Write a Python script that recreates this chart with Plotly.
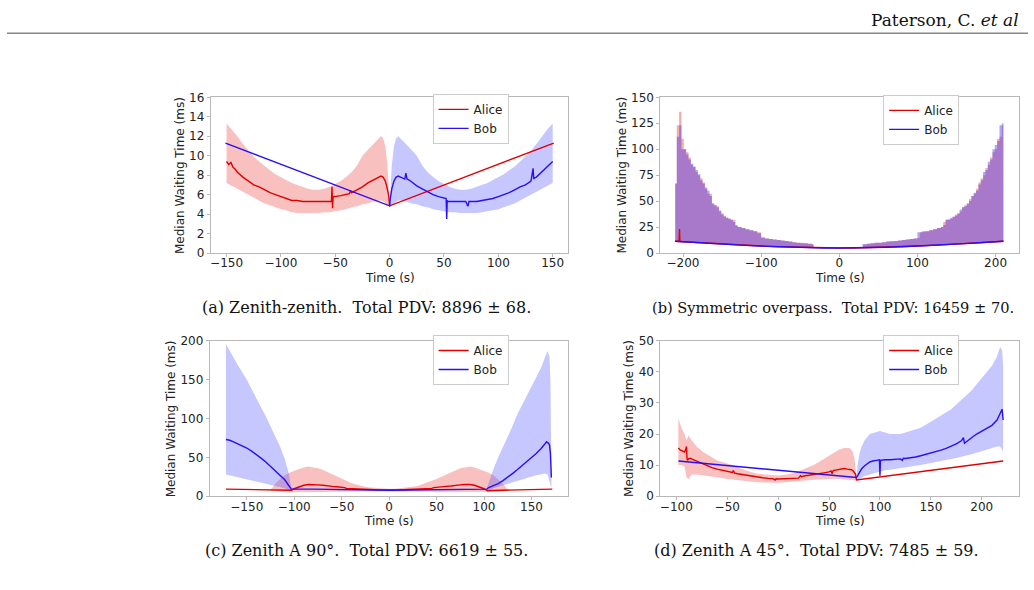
import plotly.graph_objects as go

W, H = 1034, 590
RED = "rgb(225,0,0)"
BLUE = "rgb(40,15,245)"

# ---------------- Panel (a): Zenith-zenith ----------------
a_alice_t = [-150,-148,-146,-144,-142,-140,-135,-130,-125,-120,-115,-110,-105,-100,-95,-90,-85,-80,-75,-70,
             -65,-60,-55,-53.5,-53,-52.5,-52,-50,-45,-40,-37,-36,-35,-30,-25,-20,-15,-10,-8,-6,
             -4,-3,-2,-1,-0.5,0,151]
a_alice_y = [9.4,9.1,9.3,8.8,8.6,8.3,7.8,7.4,7.0,6.8,6.5,6.2,6.0,5.8,5.6,5.4,5.4,5.3,5.3,5.3,
             5.25,5.3,5.3,5.3,6.8,4.6,5.8,5.8,5.9,6.0,6.1,6.4,6.2,6.5,6.8,7.2,7.5,7.8,7.9,7.8,
             7.4,7.0,6.6,6.0,5.5,4.85,11.3]
a_alice_bt = [-150,-145,-140,-135,-130,-125,-120,-115,-110,-105,-100,-95,-90,-85,-80,-75,-70,-65,-60,-55,
              -50,-45,-40,-35,-30,-25,-20,-15,-10,-8,-6,-4,-2,-1,0]
a_alice_hi = [13.3,12.7,12.0,11.2,10.5,9.9,9.4,8.9,8.5,8.1,7.8,7.5,7.2,7.0,6.8,6.6,6.5,6.5,6.6,6.8,
              7.1,7.4,7.8,8.3,9.0,10.0,10.6,11.2,11.8,12.0,11.8,11.0,9.0,7.0,5.0]
a_alice_lo = [7.2,6.9,6.6,6.3,6.0,5.7,5.4,5.1,4.9,4.7,4.5,4.4,4.2,4.1,4.1,4.1,4.1,4.1,4.2,4.2,
              4.3,4.4,4.5,4.7,4.8,5.0,5.1,5.3,5.4,5.4,5.3,5.1,4.9,4.8,4.8]
a_bob_t = [-151,0,0.5,1,2,3,4,6,8,10,12,14,15,16,18,20,25,30,35,40,
           45,50,52,52.5,53,53.5,55,60,65,70,72,73,74,75,80,85,90,95,100,105,
           110,115,120,125,130,132,132.5,133,135,140,145,148,150]
a_bob_y = [11.3,4.85,5.5,6.0,6.6,7.0,7.4,7.8,7.9,7.8,7.7,7.6,8.2,7.6,7.5,7.3,6.9,6.6,6.3,6.0,
           5.8,5.6,5.6,3.5,5.4,5.3,5.3,5.3,5.25,5.3,4.8,5.3,5.3,5.3,5.3,5.4,5.5,5.6,5.8,6.0,
           6.2,6.5,6.8,7.0,7.4,8.7,7.6,7.7,7.8,8.3,8.8,9.1,9.4]
a_bob_bt = [0,1,2,4,6,8,10,15,20,25,30,35,40,45,50,55,60,65,70,75,80,85,90,95,100,105,110,115,120,125,
            130,135,140,145,150]
a_bob_hi = [5.0,7.0,9.0,11.0,11.8,12.0,11.8,11.2,10.6,10.0,9.0,8.3,7.8,7.4,7.1,6.8,6.6,6.5,6.5,6.6,
            6.8,7.0,7.2,7.5,7.8,8.1,8.5,8.9,9.4,9.9,10.5,11.2,12.0,12.7,13.3]
a_bob_lo = [4.8,4.8,4.9,5.1,5.3,5.4,5.4,5.3,5.1,5.0,4.8,4.7,4.5,4.4,4.3,4.2,4.2,4.1,4.1,4.1,
            4.1,4.2,4.3,4.4,4.5,4.7,4.9,5.1,5.4,5.7,6.0,6.3,6.6,6.9,7.2]

# ---------------- Panel (b): Symmetric overpass ----------------
b_alice_t = [-210,-206,-205,-204.5,-204,-200,-180,-160,-140,-120,-100,-80,-60,-40,-20,
             0,20,40,60,80,100,120,140,160,180,200,210]
b_alice_y = [11.3,11.2,11.1,23,11.0,10.8,9.9,9.0,8.2,7.4,6.7,6.1,5.6,5.2,4.9,
             4.8,4.9,5.2,5.6,6.1,6.7,7.4,8.2,9.0,9.9,10.8,11.3]
b_bob_t = [-210,-200,-180,-160,-140,-120,-100,-80,-60,-40,-20,0,20,40,60,80,100,120,140,160,180,200,210]
b_bob_y = [11.3,10.8,9.9,9.0,8.2,7.4,6.7,6.1,5.6,5.2,4.9,4.8,4.9,5.2,5.6,6.1,6.7,7.4,8.2,9.0,9.9,10.8,11.3]
b_left_t = [-210,-208,-205,-202,-199,-196,-193,-190,-187,-184,-181,-178,-175,-172,-169,-166,-163,-160,-157,-154,
            -151,-148,-145,-142,-139,-136,-133,-130,-125,-120,-115,-110,-105,-100,-95,-90,-85,-80,-75,-70,
            -65,-60,-55,-50,-45,-40,-35,-33]
b_left_lo = [11.3,11.2,11.1,10.9,10.8,10.6,10.5,10.3,10.2,10.1,9.9,9.8,9.7,9.5,9.4,9.3,9.1,9.0,8.9,8.8,
             8.6,8.5,8.4,8.3,8.2,8.0,7.9,7.8,7.6,7.4,7.2,7.0,6.9,6.7,6.5,6.4,6.2,6.1,6.0,5.8,
             5.7,5.6,5.5,5.4,5.3,5.2,5.1,5.1]
b_alice_left_hi = [67,123,136,110,100,97,92,85,83,78,75,72,68,62,57,57,47,46,45,40,
                   38,36,34,33,32,32,26,25,24,23,22,21,20,15,14,13.5,13,12.5,12,11.5,
                   11,10.5,10,10,9.5,9,8.5,5]
b_bob_left_hi = [67,112,123,100,100,95,90,86,83,80,76,70,67,63,60,55,48,46,44,41,
                 37,35,34,33,32,30,27,25,24,23,22,21,19,15,14,13.5,13,12.5,12,11.5,
                 11,10.5,10,9.5,9.5,9,8.5,5]
b_right_t = [30,35,40,45,50,55,60,65,70,75,80,85,90,95,100,103,106,110,115,120,
             125,130,133,136,139,142,145,148,151,154,157,160,163,166,169,172,175,178,181,184,
             187,190,193,196,199,202,205,208,210]
b_right_lo = [5.0,5.1,5.2,5.3,5.4,5.5,5.6,5.7,5.8,6.0,6.1,6.2,6.4,6.5,6.7,6.8,6.9,7.0,7.2,7.4,
              7.6,7.8,7.9,8.0,8.2,8.3,8.4,8.5,8.6,8.8,8.9,9.0,9.1,9.3,9.4,9.5,9.7,9.8,9.9,10.1,
              10.2,10.3,10.5,10.6,10.8,10.9,11.1,11.2,11.3]
b_alice_right_hi = [8.5,9,9.5,10,10,10.5,11,11,11.5,12,12.5,13,13.5,14,14.5,20,20.5,21,22,23,
                    24,25,30,32,32.5,33,35,37,38,40,44,46,47,52,55,57,62,68,72,75,
                    82,85,92,97,100,110,112,123,135]
b_bob_right_hi = [8.5,9,9.5,10,10,10.5,11,11.5,11.5,12,12.5,13,13.5,14,20,20,21,21,22,23,
                  24,25,27,32,32,34,35,36,38,42,44,45,48,50,55,58,60,66,70,78,
                  80,88,90,100,104,108,123,125,145]

# ---------------- Panel (c): Zenith A 90 ----------------
c_alice_t = [-172,-150,-130,-110,-104,-103,-100,-95,-90,-85,-80,-75,-70,-65,-60,-55,-50,-47,-45,-40,
             -30,-20,-10,0,10,20,30,40,45,47,50,55,60,65,70,75,80,85,90,95,
             100,103,104,110,130,150,172]
c_alice_y = [9,8.5,8,7.3,7,7.5,9.5,12,14,15,15,14.5,14,13,12.5,12,11.5,11,10,9.5,
             9,8.5,8,7.8,8,8.5,9,9.5,10,11,11.5,12,12.5,13,14,14.5,15,15,14,12,
             9.5,7.5,7,7.3,8,8.5,9]
c_alice_bt = [-125,-120,-115,-110,-105,-100,-95,-90,-85,-80,-75,-70,-65,-60,-55,-50,-45,-40,-35,-30,
              -25,-20,-15,-10,-5,0,5,10,15,20,25,30,35,40,45,50,55,60,65,70,
              75,80,85,90,95,100,105,110,115,120,125]
c_alice_hi = [8,16,22,27,30,33,35,37,38,37,36,34,31,28,25,22,19,17,15,13,
              12,11,10.5,10,9.5,9.5,9.5,10,10.5,11,12,13,15,17,19,22,25,28,31,34,
              36,37,38,37,35,33,30,27,22,16,8]
c_alice_lo = [7,6,5.5,5,5,5,5,5,5,5,5,5,5,5,5,5,5.5,5.5,5.5,6,
              6,6,6,6,6,6,6,6,6,6,6,6,5.5,5.5,5.5,5,5,5,5,5,
              5,5,5,5,5,5,5,5,5.5,6,7]
c_bob_t = [-172,-168,-164,-160,-155,-150,-145,-140,-135,-130,-125,-120,-115,-110,-106,-104,-103,-80,-60,-40,
           -20,0,20,40,60,80,103,105,110,115,120,125,130,135,140,145,150,155,160,164,
           166,168,169,170,171]
c_bob_y = [73,72,70,68,65,62,58,54,49,44,38,33,27,21,14,10,9,9,8.5,8,
           7.8,7.5,7.8,8,8.5,9,9,11,13,16,20,24,29,34,39,44,49,55,61,67,
           70,68,66,55,24]
c_bob_left_t = [-172,-165,-160,-155,-150,-145,-140,-135,-130,-125,-120,-115,-110,-106,-103]
c_bob_left_hi = [196,180,170,160,150,138,127,115,103,90,77,64,48,30,10]
c_bob_left_lo = [28,26,25,23.5,22,20.5,19,17.5,16,14.5,13,11.5,10,8,6]
c_bob_right_t = [103,106,110,115,120,125,130,135,140,145,150,155,160,164,167,169,170,171]
c_bob_right_hi = [10,22,35,50,63,76,90,105,117,128,139,152,165,178,187,180,150,30]
c_bob_right_lo = [6,8,10,12,14,16,18,20,22,24,26,27,28,29,28,20,14,10]

# ---------------- Panel (d): Zenith A 45 ----------------
d_alice_t = [-98,-96,-94,-92,-91,-90,-89.5,-89,-88,-86,-84,-80,-75,-70,-65,-60,-55,-50,-45,-44,
             -43,-40,-35,-30,-25,-20,-15,-10,-5,-3,-2,0,5,10,15,20,22,23,25,30,
             35,40,45,50,52,53,54,55,60,63,65,68,70,72,74,75,76,77,221]
d_alice_y = [15.5,14.8,14.6,14.2,14.8,16,12,11.5,12,12.2,11.8,11.2,10.5,9.8,9.2,8.7,8.3,7.9,7.6,8.2,
             7.5,7.2,6.9,6.6,6.3,6.1,5.9,5.7,5.6,5.2,5.6,5.5,5.5,5.6,5.7,5.8,6.6,6.2,6.5,6.7,
             6.9,7.2,7.5,7.8,8.1,7.2,8.2,8.3,8.6,8.8,8.9,8.7,8.6,8.5,8.0,7.5,7.0,5.2,11.3]
d_alice_bt = [-98,-95,-92,-90,-88,-85,-80,-75,-70,-65,-60,-55,-50,-45,-40,-35,-30,-25,-20,-15,
              -10,-5,0,5,10,15,20,25,30,35,40,45,50,55,60,65,70,73,75,77]
d_alice_hi = [25,22,20,18,19.5,18,16,14.5,13.5,12.5,11.5,11,10.5,10,9.2,8.6,8,7.6,7.2,7,
              6.8,6.7,6.6,6.8,7,7.4,8,8.6,9.3,10,11,12,13,14,15,15.5,15.5,14.5,12,6]
d_alice_lo = [10,10,9.5,6,5.5,7,7,6.8,6.5,6.2,6,5.8,5.5,5.3,5.1,4.9,4.8,4.6,4.5,4.4,
              4.3,4.3,4.3,4.4,4.5,4.6,4.8,5,5.1,5.3,5.4,5.5,5.6,5.6,5.5,5.4,5.2,5.1,5,5]
d_bob_t = [-98,77,78,80,82,85,88,90,93,95,98,99.5,100,100.5,102,105,110,115,120,122,
           123,125,130,135,140,145,150,155,160,165,170,175,180,182,183,185,190,195,200,205,
           210,215,218,220,221]
d_bob_y = [11.3,6.0,6.5,7.8,8.8,9.8,10.6,11.0,11.3,11.5,11.6,11.7,6.6,11.5,11.6,11.7,11.7,11.8,12.0,11.5,
           12.2,12.1,12.3,12.6,13.0,13.4,13.8,14.2,14.8,15.4,16.0,16.8,17.8,18.8,17.0,17.6,18.8,20.0,21.0,21.8,
           22.8,24.5,26.5,28.0,24.5]
d_bob_bt = [77,78,80,82,85,90,95,100,105,110,115,120,125,130,135,140,145,150,155,160,
            165,170,175,180,185,190,195,200,205,210,215,218,220,221]
d_bob_hi = [6,10,14,16,18,20,20.5,21,20.5,20,20,20,20.5,21,21.5,22,23,24,25,26,
            27,28,29.5,31,32.5,34,36,38,40,42,45,48,47,42]
d_bob_lo = [5,5,5.5,6,6.5,7,7.5,8,8.3,8.5,8.8,9,9.2,9.5,9.8,10,10.3,10.6,11,11.3,
            11.6,12,12.3,12.7,13,13.5,14,14.5,15,15.5,16,16,15,14]

# tick values
a_xticks = [-150,-100,-50,0,50,100,150]; a_yticks = [0,2,4,6,8,10,12,14,16]
b_xticks = [-200,-100,0,100,200];        b_yticks = [0,25,50,75,100,125,150]
c_xticks = [-150,-100,-50,0,50,100,150]; c_yticks = [0,50,100,150,200]
d_xticks = [-100,-50,0,50,100,150,200];  d_yticks = [0,10,20,30,40,50]

captions = ["(a) Zenith-zenith.  Total PDV: 8896 ± 68.",
            "(b) Symmetric overpass.  Total PDV: 16459 ± 70.",
            "(c) Zenith A 90°.  Total PDV: 6619 ± 55.",
            "(d) Zenith A 45°.  Total PDV: 7485 ± 59."]

fig = go.Figure()

def px_x(p): return p / W
def px_y(p): return 1 - p / H

def band(t, lo, hi, color, ax, shape="linear"):
    xa, ya = ("x", "y") if ax == 1 else (f"x{ax}", f"y{ax}")
    fig.add_trace(go.Scatter(x=t, y=lo, mode="lines", line=dict(width=0, shape=shape),
                             xaxis=xa, yaxis=ya, showlegend=False, hoverinfo="skip"))
    fig.add_trace(go.Scatter(x=t, y=hi, mode="lines", line=dict(width=0, shape=shape),
                             fill="tonexty", fillcolor=color,
                             xaxis=xa, yaxis=ya, showlegend=False, hoverinfo="skip"))

def line(t, y, color, name, ax):
    xa, ya = ("x", "y") if ax == 1 else (f"x{ax}", f"y{ax}")
    lg = "legend" if ax == 1 else f"legend{ax}"
    fig.add_trace(go.Scatter(x=t, y=y, mode="lines", name=name, line=dict(color=color, width=1.4),
                             xaxis=xa, yaxis=ya, legend=lg, showlegend=True))

RB = "rgba(238,70,70,0.34)"
BB = "rgba(80,80,255,0.32)"
RB2 = "rgba(238,70,70,0.45)"
BB2 = "rgba(70,60,240,0.45)"

# (a)
band(a_alice_bt, a_alice_lo, a_alice_hi, RB, 1)
band(a_bob_bt, a_bob_lo, a_bob_hi, BB, 1)
line(a_alice_t, a_alice_y, RED, "Alice", 1)
line(a_bob_t, a_bob_y, BLUE, "Bob", 1)
# (b)
band(b_left_t, b_left_lo, b_alice_left_hi, RB2, 2, "hv")
band(b_right_t, b_right_lo, b_alice_right_hi, RB2, 2, "hv")
band(b_left_t, b_left_lo, b_bob_left_hi, BB2, 2, "hv")
band(b_right_t, b_right_lo, b_bob_right_hi, BB2, 2, "hv")
line(b_alice_t, b_alice_y, RED, "Alice", 2)
line(b_bob_t, b_bob_y, BLUE, "Bob", 2)
# (c)
band(c_alice_bt, c_alice_lo, c_alice_hi, RB, 3)
band(c_bob_left_t, c_bob_left_lo, c_bob_left_hi, BB, 3)
band(c_bob_right_t, c_bob_right_lo, c_bob_right_hi, BB, 3)
line(c_alice_t, c_alice_y, RED, "Alice", 3)
line(c_bob_t, c_bob_y, BLUE, "Bob", 3)
# (d)
band(d_alice_bt, d_alice_lo, d_alice_hi, RB, 4)
band(d_bob_bt, d_bob_lo, d_bob_hi, BB, 4)
line(d_alice_t, d_alice_y, RED, "Alice", 4)
line(d_bob_t, d_bob_y, BLUE, "Bob", 4)

FONT = "DejaVu Sans"
SERIF = "DejaVu Serif"
frame = "#b8b8b8"
# plot boxes in pixels: (left, right, top, bottom)
boxes = [(210, 568, 92.5, 252), (660, 1019, 92.5, 252), (209, 568, 342, 501), (660, 1019, 342, 501)]
xranges = [[-164.5, 164.5], [-229, 230], [-189, 189], [-115.7, 236.6]]
yranges = [[0, 16], [0, 150], [0, 200], [0, 50]]
xticks = [a_xticks, b_xticks, c_xticks, d_xticks]
yticks = [a_yticks, b_yticks, c_yticks, d_yticks]
ytitle_x = [179, 622, 171, 629]
legend_pos = [(432, 89), (883, 90), (432, 336), (883, 336)]
caption_pos = [(366, 308), (832.5, 308), (366, 557), (816, 557)]
caption_size = [16, 14.6, 16, 16]

annotations = []
for i in range(4):
    l, r, t, b = boxes[i]
    suf = "" if i == 0 else str(i + 1)
    fig.layout["xaxis" + suf] = dict(
        domain=[px_x(l), px_x(r)], range=xranges[i], anchor="y" + suf,
        tickvals=xticks[i], ticks="outside", ticklen=3, tickcolor=frame,
        ticklabelstandoff=-4,
        showline=True, linecolor=frame, linewidth=1, mirror=True,
        showgrid=False, zeroline=False, tickfont=dict(family=FONT, size=12, color="#222"))
    fig.layout["yaxis" + suf] = dict(
        domain=[px_y(b), px_y(t)], range=yranges[i], anchor="x" + suf,
        tickvals=yticks[i], ticks="outside", ticklen=3, tickcolor=frame,
        showline=True, linecolor=frame, linewidth=1, mirror=True,
        showgrid=False, zeroline=False, tickfont=dict(family=FONT, size=12, color="#222"))
    lx, ly = legend_pos[i]
    fig.layout["legend" + suf] = dict(
        x=px_x(lx), y=px_y(ly), xanchor="left", yanchor="top",
        bgcolor="white", bordercolor="#cccccc", borderwidth=1,
        font=dict(family=FONT, size=12, color="#222"), itemwidth=30,
        traceorder="normal", tracegroupgap=0)
    annotations.append(dict(text="Median Waiting Time (ms)", x=px_x(ytitle_x[i]), y=px_y((t + b) / 2),
                            xref="paper", yref="paper", showarrow=False, textangle=-90,
                            xanchor="center", yanchor="middle",
                            font=dict(family=FONT, size=12, color="#222")))
    annotations.append(dict(text="Time (s)", x=px_x((l + r) / 2), y=px_y(b + 26),
                            xref="paper", yref="paper", showarrow=False,
                            xanchor="center", yanchor="middle",
                            font=dict(family=FONT, size=12, color="#222")))
    cx, cy = caption_pos[i]
    annotations.append(dict(text=captions[i], x=px_x(cx), y=px_y(cy),
                            xref="paper", yref="paper", showarrow=False,
                            xanchor="center", yanchor="middle",
                            font=dict(family=SERIF, size=caption_size[i], color="#111")))

annotations.append(dict(text="Paterson, C. <i>et al</i>", x=px_x(1021), y=px_y(13),
                        xref="paper", yref="paper", showarrow=False,
                        xanchor="right", yanchor="middle",
                        font=dict(family=SERIF, size=17, color="#111")))

fig.update_layout(
    width=W, height=H, margin=dict(l=0, r=0, t=0, b=0),
    paper_bgcolor="white", plot_bgcolor="white",
    annotations=annotations,
    shapes=[dict(type="line", xref="paper", yref="paper", x0=px_x(6), x1=px_x(1028),
                 y0=px_y(27), y1=px_y(27), line=dict(color="#888888", width=1.5))],
)

fig.write_html("out.html")
